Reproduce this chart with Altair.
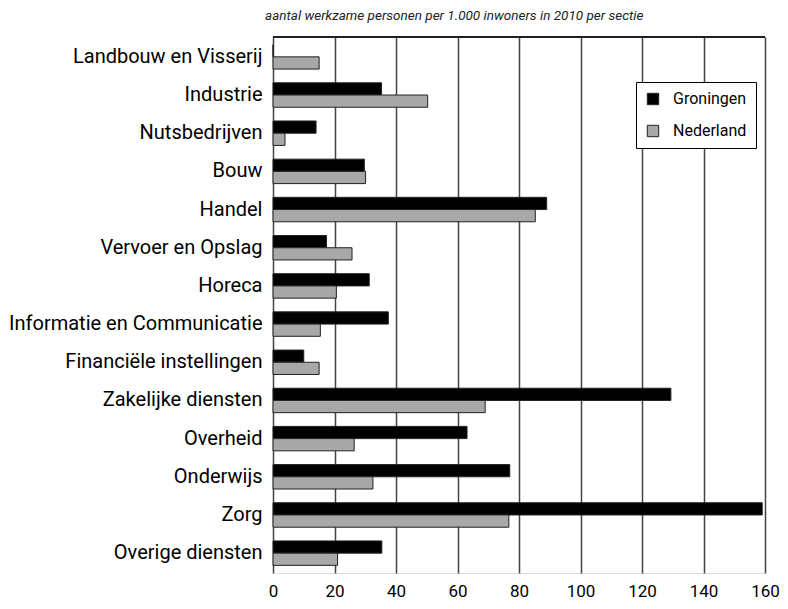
import altair as alt
import pandas as pd

categories = ["Landbouw en Visserij", "Industrie", "Nutsbedrijven", "Bouw", "Handel",
              "Vervoer en Opslag", "Horeca", "Informatie en Communicatie",
              "Financiële instellingen", "Zakelijke diensten", "Overheid",
              "Onderwijs", "Zorg", "Overige diensten"]
groningen = [0, 35.3, 14, 29.7, 89, 17.4, 31.3, 37.5, 10, 129.4, 63.1, 77, 159.1, 35.4]
nederland = [15, 50.3, 3.9, 30.1, 85.3, 25.7, 20.6, 15.4, 15, 69, 26.4, 32.5, 76.7, 21]
series = ["Groningen", "Nederland"]
colors = ["#000000", "#a8a8a8"]
ticks = [0, 20, 40, 60, 80, 100, 120, 140, 160]

rows = []
for c, g, n in zip(categories, groningen, nederland):
    rows.append({"sectie": c, "reeks": series[0], "waarde": g})
    rows.append({"sectie": c, "reeks": series[1], "waarde": n})
df = pd.DataFrame(rows)

FONT = "Roboto"
W, H = 492, 536

bars = alt.Chart(df).mark_bar(stroke="#222222", strokeWidth=1).encode(
    x=alt.X("waarde:Q", scale=alt.Scale(domain=[0, 160]),
            axis=alt.Axis(values=ticks, title=None,
                          grid=True, gridColor="#444444", gridWidth=1.5,
                          domain=False, ticks=False, labelFontSize=17,
                          labelColor="#000000", labelFont=FONT, labelPadding=10,
                          labelFlush=False)),
    y=alt.Y("sectie:N", sort=categories,
            scale=alt.Scale(paddingInner=0.36, paddingOuter=0.2),
            axis=alt.Axis(title=None, ticks=False, domain=False, labelFontSize=20,
                          labelColor="#000000", labelFont=FONT, labelPadding=11,
                          labelLimit=400)),
    yOffset=alt.YOffset("reeks:N", sort=series),
    color=alt.Color("reeks:N", sort=series,
                    scale=alt.Scale(domain=series, range=colors),
                    legend=alt.Legend(title="\u00a0\u00a0\u00a0\u00a0", titleOrient="right",
                                      titlePadding=0, titleFontSize=16, titleFont=FONT,
                                      orient="none", legendX=363, legendY=45,
                                      fillColor="white", strokeColor="#000000",
                                      padding=9, rowPadding=16,
                                      symbolType="square", symbolSize=130,
                                      symbolStrokeColor="#222222", symbolStrokeWidth=1,
                                      labelFontSize=16, labelFont=FONT,
                                      labelColor="#000000", labelOffset=12,
                                      labelLimit=300)),
)

topline = alt.Chart(df).mark_rule(color="#222222", strokeWidth=1.5).encode(
    y=alt.value(0), x=alt.value(0), x2=alt.value(W)
)

chart = alt.layer(bars, topline).properties(
    width=W, height=H,
    padding={"left": 0, "top": 0, "right": 0, "bottom": 0},
    title=alt.TitleParams("aantal werkzame personen per 1.000 inwoners in 2010 per sectie",
                          fontSize=13.5, fontStyle="italic", fontWeight="normal",
                          font=FONT, color="#222222", anchor="start", frame="group",
                          dx=-8, offset=14),
).configure_view(stroke=None).configure(background="white")

chart.save("out.html", embed_options={"renderer": "svg", "actions": False})
